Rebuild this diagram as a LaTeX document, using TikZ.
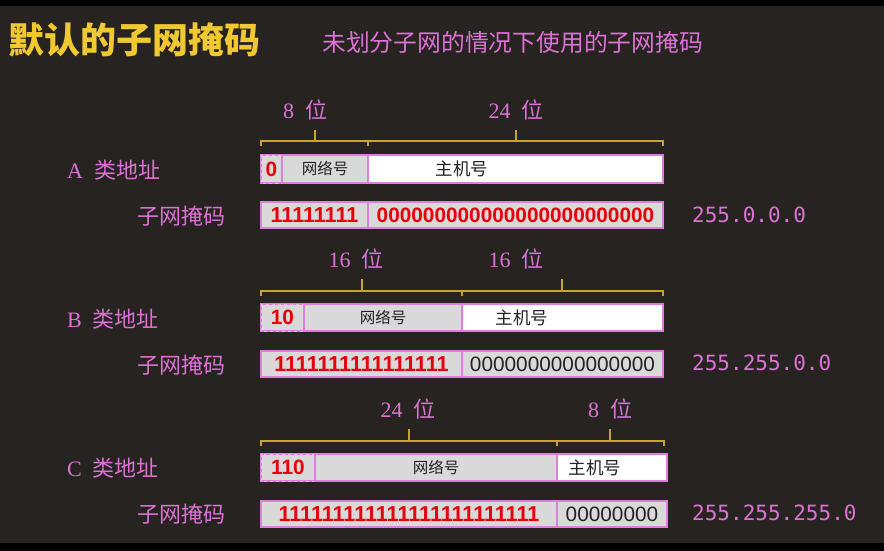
\documentclass[tikz,border=0pt]{standalone}
\usepackage{fontspec}
\newfontfamily\cjk{Noto Sans CJK SC}
\newfontfamily\arial{Liberation Sans}
\newfontfamily\dmono{DejaVu Sans Mono}
\newfontfamily\lserif{Liberation Serif}
\definecolor{bg}{HTML}{272320}
\definecolor{titleyellow}{HTML}{F0C832}
\definecolor{braceyellow}{HTML}{C9A42C}
\definecolor{lpink}{HTML}{DC72D6}
\definecolor{boxpink}{HTML}{E07EDE}
\definecolor{dashpink}{HTML}{ECB4EA}
\definecolor{lgray}{HTML}{D9D9D9}
\definecolor{bitred}{HTML}{E8000A}
\definecolor{ink}{HTML}{222222}
\newcommand{\gapsp}{\hspace{11pt}}
\begin{document}
\begin{tikzpicture}[x=1pt,y=-1pt,
  cell/.style={draw=boxpink, line width=1.3pt, anchor=north west, inner sep=0pt, outer sep=0pt, fill=lgray},
  addr/.style={cell, minimum height=27pt},
  mask/.style={cell, minimum height=26pt},
  first/.style={draw=dashpink, dashed},
  redbits/.style={font=\arial\bfseries\fontsize{20.8}{20.8}\selectfont, text=bitred},
  redones/.style={font=\arial\bfseries\fontsize{21.6}{21.6}\selectfont, text=bitred},
  blackbits/.style={font=\arial\fontsize{20.8}{20.8}\selectfont, text=ink},
  netw/.style={font=\cjk\fontsize{15.5}{15.5}\selectfont, text=ink},
  hostw/.style={font=\cjk\fontsize{17.5}{17.5}\selectfont, text=ink, inner sep=0pt},
  lab/.style={font=\cjk\fontsize{22}{22}\selectfont, text=lpink, inner sep=0pt},
  bits/.style={font=\cjk\fontsize{22}{22}\selectfont, text=lpink, inner sep=0pt},
  maskval/.style={font=\dmono\fontsize{21}{21}\selectfont, text=lpink, inner sep=0pt, anchor=west},
  brace/.style={draw=braceyellow, line width=1.5pt}
]
\fill[black] (0,0) rectangle (884,551);
\fill[bg] (0,6) rectangle (884,543);
\useasboundingbox (0,0) rectangle (884,551);

% titles
\node[anchor=west, inner sep=0pt, font=\cjk\bfseries\fontsize{36}{36}\selectfont, text=titleyellow] (title) at (8,40) {默认的子网掩码};
\node[anchor=west, inner sep=0pt, font=\cjk\fontsize{23.8}{23.8}\selectfont, text=lpink] (subtitle) at (322,42) {未划分子网的情况下使用的子网掩码};

% ---------- Class A ----------
\node[bits] (bA1) at (305,110) {{\lserif 8}\gapsp 位};
\node[bits] (bA2) at (516,110) {{\lserif 24}\gapsp 位};
\draw[brace] (261,146) -- (261,141) -- (663,141) -- (663,146);
\draw[brace] (368,141) -- (368,146);
\draw[brace] (315,141) -- (315,130);
\draw[brace] (516,141) -- (516,130);

\node[lab, anchor=west] (labA) at (67,170) {{\lserif A}\gapsp 类地址};
\node[addr, minimum height=28pt, minimum width=21pt, redbits] (a0) at (261,155) {0};
\draw[first] (a0.north west) rectangle (a0.south east);
\node[addr, minimum height=28pt, minimum width=86pt, netw] (a1) at (282,155) {网络号};
\node[addr, minimum height=28pt, minimum width=295pt, fill=white] (a2) at (368,155) {};
\node[hostw] (a2t) at (462,169) {主机号};

\node[lab, anchor=west] (maskA) at (137,216) {子网掩码};
\node[mask, minimum width=107pt, redones] (am1) at (261,202) {11111111};
\node[mask, minimum width=295pt, redbits] (am2) at (368,202) {000000000000000000000000};
\node[maskval] (vA) at (692,215) {255.0.0.0};

% ---------- Class B ----------
\node[bits] (bB1) at (356,259) {{\lserif 16}\gapsp 位};
\node[bits] (bB2) at (516,259) {{\lserif 16}\gapsp 位};
\draw[brace] (261,296) -- (261,291) -- (663,291) -- (663,296);
\draw[brace] (462,291) -- (462,296);
\draw[brace] (362,291) -- (362,279);
\draw[brace] (562,291) -- (562,279);

\node[lab, anchor=west] (labB) at (67,319) {{\lserif B}\gapsp 类地址};
\node[addr, minimum width=43pt, redbits] (b0) at (261,304) {10};
\draw[first] (b0.north west) rectangle (b0.south east);
\node[addr, minimum width=158pt, netw] (b1) at (304,304) {网络号};
\node[addr, minimum width=201pt, fill=white] (b2) at (462,304) {};
\node[hostw] (b2t) at (522,318) {主机号};

\node[lab, anchor=west] (maskB) at (137,365) {子网掩码};
\node[mask, minimum width=201pt, redones] (bm1) at (261,351) {1111111111111111};
\node[mask, minimum width=201pt, blackbits] (bm2) at (462,351) {0000000000000000};
\node[maskval] (vB) at (692,363) {255.255.0.0};

% ---------- Class C ----------
\node[bits] (bC1) at (408,409) {{\lserif 24}\gapsp 位};
\node[bits] (bC2) at (610,409) {{\lserif 8}\gapsp 位};
\draw[brace] (261,446) -- (261,441) -- (664,441) -- (664,446);
\draw[brace] (557,441) -- (557,446);
\draw[brace] (409,441) -- (409,429);
\draw[brace] (610,441) -- (610,429);

\node[lab, anchor=west] (labC) at (67,468) {{\lserif C}\gapsp 类地址};
\node[addr, minimum width=54pt, redbits] (c0) at (261,454) {110};
\draw[first] (c0.north west) rectangle (c0.south east);
\node[addr, minimum width=242pt, netw] (c1) at (315,454) {网络号};
\node[addr, minimum width=110pt, fill=white] (c2) at (557,454) {};
\node[hostw] (c2t) at (595,468) {主机号};

\node[lab, anchor=west] (maskC) at (137,514) {子网掩码};
\node[mask, minimum width=296pt, redones] (cm1) at (261,501) {111111111111111111111111};
\node[mask, minimum width=110pt, blackbits] (cm2) at (557,501) {00000000};
\node[maskval] (vC) at (692,513) {255.255.255.0};
\end{tikzpicture}
\end{document}
